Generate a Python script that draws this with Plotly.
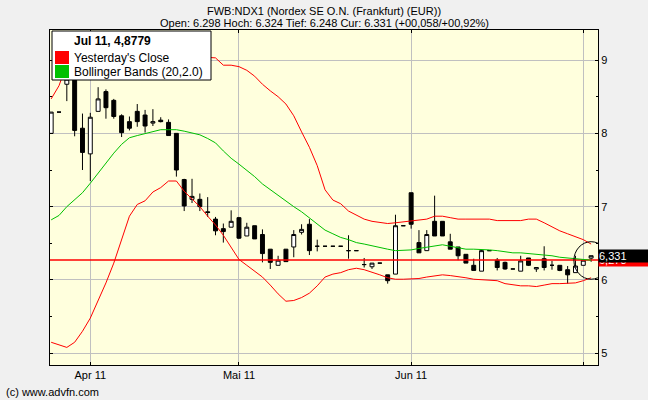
import plotly.graph_objects as go

# ---------------- data ----------------
dates = [
    "2011-03-25", "2011-03-28", "2011-03-29", "2011-03-30", "2011-03-31",
    "2011-04-01", "2011-04-04", "2011-04-05", "2011-04-06", "2011-04-07", "2011-04-08",
    "2011-04-11", "2011-04-12", "2011-04-13", "2011-04-14", "2011-04-15",
    "2011-04-18", "2011-04-19", "2011-04-20", "2011-04-21",
    "2011-04-26", "2011-04-27", "2011-04-28", "2011-04-29",
    "2011-05-02", "2011-05-03", "2011-05-04", "2011-05-05", "2011-05-06",
    "2011-05-09", "2011-05-10", "2011-05-11", "2011-05-12", "2011-05-13",
    "2011-05-16", "2011-05-17", "2011-05-18", "2011-05-19", "2011-05-20",
    "2011-05-23", "2011-05-24", "2011-05-25", "2011-05-26", "2011-05-27",
    "2011-05-30", "2011-05-31",
    "2011-06-01", "2011-06-02", "2011-06-03",
    "2011-06-06", "2011-06-07", "2011-06-08", "2011-06-09", "2011-06-10",
    "2011-06-13", "2011-06-14", "2011-06-15", "2011-06-16", "2011-06-17",
    "2011-06-20", "2011-06-21", "2011-06-22", "2011-06-23", "2011-06-24",
    "2011-06-27", "2011-06-28", "2011-06-29", "2011-06-30",
    "2011-07-01", "2011-07-04",
]

opens = [8.00, 8.29, 8.67, 8.85, 8.07, 7.72, 8.30, 8.57, 8.45, 8.24,
         8.16, 8.30, 8.25, 8.14, 8.18, 8.15, 8.00, 7.37, 7.10, 7.10,
         6.93, 6.83, 6.70, 6.72, 6.85, 6.60, 6.74, 6.62, 6.42, 6.20,
         6.42, 6.45, 6.65, 6.76, 6.46, 6.46, 6.46, 6.46, 6.40, 6.40,
         6.21, 6.18, 6.23, 6.07, 6.08, 6.74, 7.19, 6.51, 6.40, 6.80,
         6.80, 6.52, 6.45, 6.35, 6.20, 6.12, 6.40, 6.27, 6.24, 6.15,
         6.12, 6.30, 6.15, 6.29, 6.20, 6.20, 6.14, 6.10, 6.20, 6.298]
highs = [8.29, 8.29, 8.90, 8.95, 8.27, 8.28, 8.63, 8.60, 8.47, 8.26,
         8.23, 8.40, 8.32, 8.33, 8.22, 8.19, 8.00, 7.38, 7.38, 7.18,
         7.13, 6.86, 6.77, 6.95, 6.86, 6.78, 6.74, 6.69, 6.42, 6.33,
         6.42, 6.68, 6.76, 6.83, 6.55, 6.46, 6.46, 6.46, 6.61, 6.40,
         6.30, 6.23, 6.23, 6.07, 6.89, 6.74, 7.19, 6.68, 6.68, 7.15,
         6.80, 6.63, 6.45, 6.35, 6.29, 6.41, 6.40, 6.30, 6.25, 6.15,
         6.33, 6.30, 6.17, 6.46, 6.26, 6.20, 6.19, 6.33, 6.27, 6.331]
lows = [8.00, 8.29, 8.44, 7.96, 7.50, 7.35, 8.30, 8.20, 8.20, 7.95,
        8.04, 8.09, 8.01, 8.10, 8.15, 7.97, 7.41, 6.94, 7.05, 6.94,
        6.86, 6.61, 6.51, 6.72, 6.56, 6.60, 6.56, 6.24, 6.15, 6.20,
        6.25, 6.31, 6.62, 6.34, 6.39, 6.46, 6.46, 6.46, 6.29, 6.40,
        6.17, 6.15, 6.23, 5.95, 6.08, 6.74, 6.70, 6.37, 6.40, 6.60,
        6.60, 6.42, 6.27, 6.23, 6.13, 6.12, 6.40, 6.13, 6.14, 6.15,
        6.12, 6.19, 6.11, 6.13, 6.14, 6.12, 5.95, 6.10, 6.20, 6.248]
closes = [8.29, 8.29, 8.74, 8.04, 7.74, 8.22, 8.47, 8.35, 8.23, 8.01,
          8.07, 8.16, 8.10, 8.16, 8.16, 7.97, 7.50, 7.01, 7.14, 7.00,
          6.92, 6.67, 6.66, 6.80, 6.57, 6.72, 6.56, 6.36, 6.24, 6.27,
          6.25, 6.62, 6.69, 6.40, 6.46, 6.46, 6.46, 6.46, 6.40, 6.40,
          6.21, 6.23, 6.23, 5.99, 6.74, 6.74, 6.76, 6.37, 6.62, 6.60,
          6.60, 6.42, 6.33, 6.23, 6.13, 6.40, 6.40, 6.17, 6.15, 6.15,
          6.26, 6.20, 6.17, 6.17, 6.20, 6.13, 6.07, 6.19, 6.27, 6.331]

bb_upper = [8.47, 8.65, 8.95, 9.15, 9.25, 9.30, 9.30, 9.30, 9.28, 9.25,
            9.22, 9.18, 9.15, 9.12, 9.10, 9.08, 9.06, 9.05, 9.05, 9.04,
            9.04, 9.03, 8.93, 8.93, 8.91, 8.86, 8.78, 8.67, 8.58, 8.50,
            8.40, 8.24, 8.02, 7.81, 7.56, 7.23, 7.09, 7.04, 6.94, 6.89,
            6.83, 6.80, 6.78, 6.77, 6.78, 6.79, 6.80, 6.82, 6.83, 6.87,
            6.87, 6.85, 6.83, 6.83, 6.83, 6.83, 6.83, 6.81, 6.81, 6.81,
            6.81, 6.83, 6.83, 6.78, 6.72, 6.67, 6.63, 6.59, 6.55, 6.49]
bb_mid = [6.82, 6.88, 7.00, 7.10, 7.19, 7.32, 7.46, 7.60, 7.73, 7.85,
          7.94, 7.97, 8.00, 8.03, 8.05, 8.05, 8.05, 8.03, 8.01, 7.98,
          7.93, 7.87, 7.76, 7.66, 7.58, 7.50, 7.41, 7.31, 7.23, 7.15,
          7.07, 7.00, 6.93, 6.85, 6.76, 6.68, 6.63, 6.58, 6.55, 6.51,
          6.49, 6.47, 6.45, 6.42, 6.40, 6.40, 6.41, 6.43, 6.45, 6.47,
          6.48, 6.46, 6.44, 6.42, 6.42, 6.42, 6.41, 6.40, 6.38, 6.37,
          6.37, 6.36, 6.35, 6.35, 6.33, 6.31, 6.30, 6.29, 6.28, 6.27]
bb_lower = [5.15, 5.11, 5.08, 5.15, 5.30, 5.48, 5.71, 5.96, 6.23, 6.55,
            6.87, 7.03, 7.08, 7.20, 7.26, 7.35, 7.35, 7.21, 7.11, 7.00,
            6.87, 6.75, 6.61, 6.44, 6.28, 6.20, 6.12, 6.04, 5.93, 5.81,
            5.71, 5.72, 5.76, 5.82, 5.92, 6.04, 6.08, 6.10, 6.14, 6.16,
            6.14, 6.11, 6.07, 6.03, 6.01, 6.01, 6.01, 6.02, 6.04, 6.05,
            6.07, 6.06, 6.05, 6.03, 6.01, 6.00, 6.00, 5.99, 5.95, 5.93,
            5.92, 5.92, 5.91, 5.93, 5.95, 5.95, 5.95, 5.96, 5.99, 6.03]

prev_close = 6.273
last_price = 6.331

tick_dates = ["2011-04-01", "2011-05-02", "2011-06-01", "2011-07-01"]
tick_labels = ["Apr 11", "Mai 11", "Jun 11", ""]

title_line1 = "FWB:NDX1 (Nordex SE O.N. (Frankfurt) (EUR))"
title_line2 = "Open: 6.298 Hoch: 6.324 Tief: 6.248 Cur: 6.331 (+00,058/+00,92%)"
legend_title = "Jul 11, 4,8779"
legend_items = ["Yesterday's Close", "Bollinger Bands (20,2.0)"]
legend_colors = ["#ff0000", "#00c000"]
footer = "(c) www.advfn.com"

# ---------------- layout helpers ----------------
W, H = 648, 400
ML, MR, MT, MB = 50, 50, 30, 35
PW, PH = W - ML - MR, H - MT - MB
FONT = "Liberation Sans, Arial, sans-serif"


def px(xp):
    return (xp - ML) / PW


def py(yp):
    return (H - MB - yp) / PH


xpos = list(range(len(dates)))
tickvals = [dates.index(d) for d in tick_dates]

fig = go.Figure()

fig.add_trace(go.Scatter(x=[xpos[0] - 2, xpos[-1] + 2], y=[prev_close, prev_close],
                         mode="lines", line=dict(color="#ff0000", width=1.5),
                         showlegend=False, hoverinfo="skip"))
for arr, col in [(bb_upper, "#ff0000"), (bb_lower, "#ff0000"), (bb_mid, "#00c000")]:
    fig.add_trace(go.Scatter(x=xpos, y=arr, mode="lines", line=dict(color=col, width=1),
                             showlegend=False, hoverinfo="skip"))

fig.add_trace(go.Candlestick(
    x=xpos, open=opens, high=highs, low=lows, close=closes,
    increasing=dict(line=dict(color="black", width=1), fillcolor="white"),
    decreasing=dict(line=dict(color="black", width=1), fillcolor="black"),
    whiskerwidth=0, showlegend=False, hoverinfo="skip"))

shapes = []
annotations = []

# highlight circle around the last candle
cx = xpos[-1]
shapes.append(dict(type="circle", xref="x", yref="y",
                   x0=cx - 2.2, x1=cx + 2.2, y0=6.266 - 0.256, y1=6.266 + 0.256,
                   line=dict(color="black", width=1), layer="above"))

# legend box
shapes.append(dict(type="rect", xref="paper", yref="paper",
                   x0=px(52), x1=px(211), y0=py(80), y1=py(31),
                   fillcolor="white", line=dict(color="black", width=1), layer="above"))
annotations.append(dict(xref="paper", yref="paper", x=px(72), y=py(41), xanchor="left",
                        yanchor="middle", showarrow=False, text="<b>" + legend_title + "</b>",
                        font=dict(family=FONT, size=12, color="black")))
for i, (lab, col) in enumerate(zip(legend_items, legend_colors)):
    top = 51 + i * 14
    shapes.append(dict(type="rect", xref="paper", yref="paper",
                       x0=px(55), x1=px(69), y0=py(top + 13), y1=py(top),
                       fillcolor=col, line=dict(width=0), layer="above"))
    annotations.append(dict(xref="paper", yref="paper", x=px(72), y=py(top + 6.5),
                            xanchor="left", yanchor="middle", showarrow=False, text=lab,
                            font=dict(family=FONT, size=12, color="black")))

# titles
annotations.append(dict(xref="paper", yref="paper", x=0.5, y=py(11), xanchor="center",
                        yanchor="middle", showarrow=False, text=title_line1,
                        font=dict(family=FONT, size=11, color="black")))
annotations.append(dict(xref="paper", yref="paper", x=0.5, y=py(23), xanchor="center",
                        yanchor="middle", showarrow=False, text=title_line2,
                        font=dict(family=FONT, size=11, color="black")))
annotations.append(dict(xref="paper", yref="paper", x=px(4), y=py(392), xanchor="left",
                        yanchor="middle", showarrow=False, text=footer,
                        font=dict(family=FONT, size=11, color="black")))

# price labels on the right axis (previous close peeks out below the current price)
for val, bg in [(prev_close, "#ff0000"), (last_price, "black")]:
    annotations.append(dict(xref="paper", yref="y", x=1.0, y=val, xanchor="left",
                            yanchor="middle", showarrow=False,
                            text=f"{val:.3f}".replace(".", ","), bgcolor=bg,
                            width=50, align="left", borderpad=0,
                            font=dict(family=FONT, size=11, color="white")))

fig.update_layout(
    width=W, height=H,
    margin=dict(l=ML, r=MR, t=MT, b=MB, pad=0),
    paper_bgcolor="#f0f0f0", plot_bgcolor="#ffffdd",
    font=dict(family=FONT, size=11, color="black"),
    showlegend=False, boxgap=0.28,
    shapes=shapes, annotations=annotations,
    xaxis=dict(range=[-0.15, 69.88], tickmode="array", tickvals=tickvals, ticktext=tick_labels,
               showgrid=True, gridcolor="#c0c0c0", gridwidth=1, ticks="inside", ticklen=3,
               tickcolor="black", showline=True, linecolor="black", linewidth=1,
               mirror="allticks", zeroline=False, rangeslider=dict(visible=False),
               tickfont=dict(family=FONT, size=11)),
    yaxis=dict(range=[4.84, 9.41], side="right", tickmode="linear", tick0=0, dtick=1,
               showgrid=True, gridcolor="#c0c0c0", gridwidth=1, ticks="inside", ticklen=3,
               tickcolor="black", showline=True, linecolor="black", linewidth=1,
               mirror="allticks", zeroline=False,
               minor=dict(dtick=0.5, tick0=0, ticks="inside", ticklen=2, tickcolor="black",
                          showgrid=False),
               tickfont=dict(family=FONT, size=11)),
)

fig.write_html("out.html", config={"displayModeBar": False},
               post_script="document.body.style.margin='0px';document.body.style.background='#f0f0f0';")
